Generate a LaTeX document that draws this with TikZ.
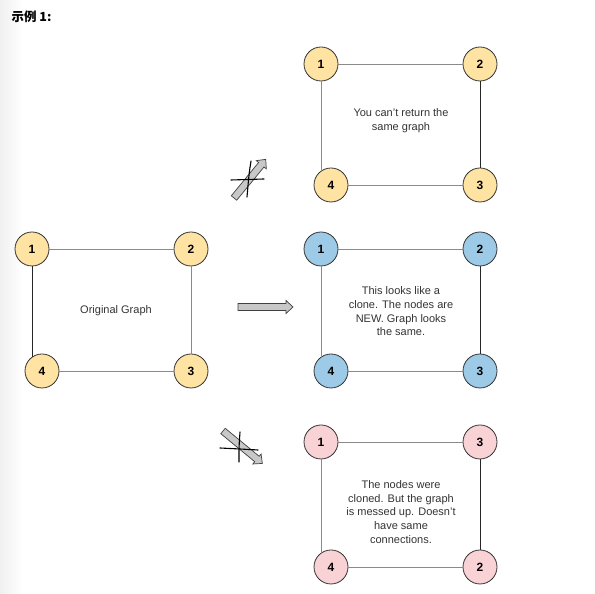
\documentclass[tikz,border=0pt]{standalone}
\usepackage{fontspec}
\setmainfont{Liberation Sans}
\newfontfamily\cjk{Noto Sans CJK SC}
\definecolor{nyel}{HTML}{FFE3A3}
\definecolor{nblu}{HTML}{9DCAE6}
\definecolor{npnk}{HTML}{F9D2D6}
\definecolor{edgegray}{HTML}{8A8A8A}
\definecolor{arrowgray}{HTML}{C8C8C8}
\begin{document}
\begin{tikzpicture}[x=1pt,y=1pt,
  vert/.style={circle,draw=black!80,line width=0.8pt,minimum size=34pt,inner sep=0pt,font=\fontsize{12}{14}\selectfont\bfseries},
  yel/.style={vert,fill=nyel},
  blu/.style={vert,fill=nblu},
  pnk/.style={vert,fill=npnk},
  gedge/.style={draw=edgegray,line width=0.8pt},
  bedge/.style={draw=black!85,line width=0.8pt},
  note/.style={align=center,font=\fontsize{11}{13.7}\selectfont,text=black!80},
  blockarrow/.style={draw=black!75,fill=arrowgray,line width=0.7pt,line join=miter},
  crossline/.style={draw=black,line width=1.1pt,line cap=round}]
\useasboundingbox (0,0) rectangle (595,594);
\shade[left color=black!6,right color=white] (0,0) rectangle (22,594);
\node[anchor=west,font=\cjk\fontsize{12.5}{14}\selectfont\bfseries] (title) at (8,577) {示例 1:};
% top graph
\node[yel] (t1) at (321,530) {1};
\node[yel] (t2) at (480,530) {2};
\node[yel] (t4) at (331,409) {4};
\node[yel] (t3) at (480,409) {3};
\path[gedge] (t1) -- (t2);
\path[bedge] (t2) -- (t3);
\path[gedge] (t4) -- (t3);
\path[gedge] (t1.south) -- (t1.south |- t4.126);
\node[note] (ttext) at (401,473) {You can't return the\\same graph};
% left graph
\node[yel] (l1) at (32,345) {1};
\node[yel] (l2) at (191,345) {2};
\node[yel] (l4) at (42,223) {4};
\node[yel] (l3) at (191,223) {3};
\path[gedge] (l1) -- (l2);
\path[gedge] (l2) -- (l3);
\path[gedge] (l4) -- (l3);
\path[bedge] (l1.south) -- (l1.south |- l4.126);
\node[note] (ltext) at (116,283) {Original Graph};
% middle right graph
\node[blu] (m1) at (321,345) {1};
\node[blu] (m2) at (480,345) {2};
\node[blu] (m4) at (331,223) {4};
\node[blu] (m3) at (480,223) {3};
\path[gedge] (m1) -- (m2);
\path[bedge] (m2) -- (m3);
\path[gedge] (m4) -- (m3);
\path[gedge] (m1.south) -- (m1.south |- m4.126);
\node[note] (mtext) at (401,282.5) {This looks like a\\clone. The nodes are\\NEW. Graph looks\\the same.};
% bottom graph
\node[pnk] (b1) at (321,152) {1};
\node[pnk] (b3) at (480,152) {3};
\node[pnk] (b4) at (331,27) {4};
\node[pnk] (b2) at (480,27) {2};
\path[gedge] (b1) -- (b3);
\path[bedge] (b3) -- (b2);
\path[gedge] (b4) -- (b2);
\path[gedge] (b1.south) -- (b1.south |- b4.126);
\node[note] (btext) at (401,82) {The nodes were\\cloned. But the graph\\is messed up. Doesn't\\have same\\connections.};
% middle arrow
\begin{scope}[shift={(238,287)}]
\draw[blockarrow] (0,3.5) -- (48,3.5) -- (48,6.5) -- (55,0) -- (48,-6.5) -- (48,-3.5) -- (0,-3.5) -- cycle;
\end{scope}
% top arrow (crossed)
\begin{scope}[shift={(234,396)},rotate=50.6]
\draw[blockarrow] (0,3.5) -- (43,3.5) -- (43,6.5) -- (50,0) -- (43,-6.5) -- (43,-3.5) -- (0,-3.5) -- cycle;
\end{scope}
\draw[crossline] (251,433) .. controls (249,420) .. (247,397);
\draw[crossline] (231,414) .. controls (248,415) .. (264,415);
% bottom arrow (crossed)
\begin{scope}[shift={(223,163)},rotate=-39.5]
\draw[blockarrow] (0,3.5) -- (44,3.5) -- (44,6.5) -- (51,0) -- (44,-6.5) -- (44,-3.5) -- (0,-3.5) -- cycle;
\end{scope}
\draw[crossline] (240,162) .. controls (239,148) .. (239,132);
\draw[crossline] (220,146) .. controls (240,145) .. (258,144);
\end{tikzpicture}
\end{document}
